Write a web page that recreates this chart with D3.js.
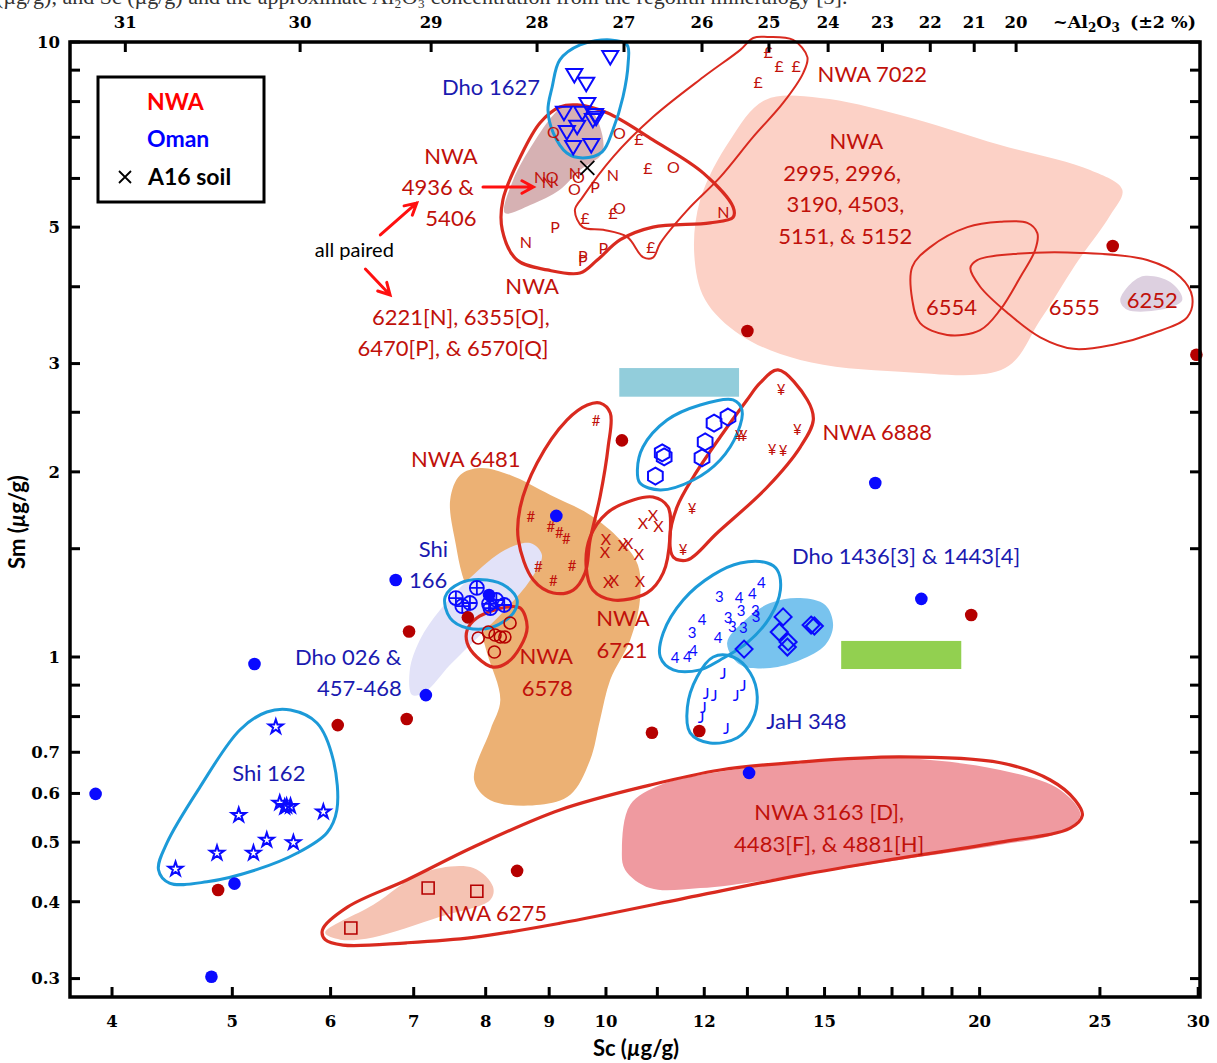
<!DOCTYPE html>
<html>
<head>
<meta charset="utf-8">
<script src="https://cdn.jsdelivr.net/npm/d3@7"></script>
<style>
  body { margin: 0; background: #fff; }
  svg { display: block; }
</style>
</head>
<body>
<svg id="chart" width="1217" height="1063"></svg>
<script>
// ---------- axis tick values ----------
const scTicks = [4, 5, 6, 7, 8, 9, 10, 11, 12, 13, 14, 15, 16, 17, 18, 19, 20, 25, 30];
const scTickLabels = [4, 5, 6, 7, 8, 9, 10, 12, 15, 20, 25, 30];
const smTicks = [0.3, 0.4, 0.5, 0.6, 0.7, 0.8, 0.9, 1, 1.5, 2, 2.5, 3, 4, 5, 6, 7, 8, 9, 10];
const smTickLabels = [0.3, 0.4, 0.5, 0.6, 0.7, 1, 2, 3, 5, 10];
// approximate Al2O3 (wt%) and the Sc value (µg/g) where each sits
const al2o3Ticks = [31, 30, 29, 28, 27, 26, 25, 24, 23, 22, 21, 20];
const al2o3TickSc = [4.10, 5.67, 7.23, 8.80, 10.34, 11.95, 13.53, 15.10, 16.70, 18.25, 19.80, 21.40];

// ---------- individual samples [Sc, Sm] ----------
const nwaSingles = [[25.6, 4.66], [29.9, 3.10], [13.0, 3.39], [10.3, 2.25], [7.74, 1.16], [6.94, 1.10],
  [6.08, 0.775], [6.91, 0.793], [10.89, 0.753], [11.89, 0.758], [19.69, 1.17], [8.48, 0.449], [4.87, 0.418]];
const omanSingles = [[3.88, 0.599], [4.81, 0.302], [5.02, 0.428], [5.21, 0.974], [6.77, 1.334], [7.16, 0.867],
  [8.05, 1.261], [9.12, 1.696], [13.04, 0.648], [16.48, 1.918], [17.95, 1.243]];
const a16Soil = [[9.66, 6.24]];

// ---------- grouped meteorite subsamples [Sc, Sm] ----------
const dho1627 = [[10.08, 9.45], [9.43, 8.84], [9.64, 8.55], [9.66, 7.93], [9.25, 7.67], [9.57, 7.67], [9.80, 7.61],
  [9.76, 7.47], [9.82, 7.53], [9.48, 7.28], [9.30, 7.14], [9.41, 6.75], [9.73, 6.80]];
const nwa6221 = [[8.85, 6.03], [8.98, 5.92], [9.44, 6.12], [10.13, 6.08], [12.43, 5.29], [8.62, 4.73]];
const nwa6355 = [[10.25, 7.11], [9.50, 6.03], [9.43, 5.77], [11.33, 6.26], [10.25, 5.37]];
const nwa6470 = [[9.80, 5.81], [9.10, 5.00], [9.95, 4.62], [9.58, 4.49], [9.58, 4.42]];
const nwa6570 = [[9.07, 7.14], [9.05, 6.03]];
const nwa7022 = [[10.63, 6.96], [10.81, 6.24], [9.62, 5.17], [10.13, 5.27], [10.87, 4.64], [13.51, 9.63],
  [13.79, 9.14], [14.23, 9.14], [13.26, 8.61]];
const shi166 = [[7.57, 1.247], [7.87, 1.295], [7.66, 1.210], [7.77, 1.224], [8.05, 1.220], [8.16, 1.238],
  [8.28, 1.215], [8.07, 1.201]];
const nwa6578 = [[8.37, 1.136], [7.89, 1.074], [8.04, 1.098], [8.14, 1.086], [8.22, 1.078], [8.29, 1.078], [8.13, 1.019]];
const nwa6481 = [[9.82, 2.419], [8.70, 1.689], [9.03, 1.627], [9.17, 1.591], [9.29, 1.555], [8.82, 1.401],
  [9.39, 1.406], [9.07, 1.329]];
const nwa6721 = [[10.71, 1.652], [10.91, 1.702], [11.02, 1.633], [10.00, 1.555], [9.98, 1.482], [10.32, 1.521],
  [10.42, 1.532], [10.63, 1.471], [10.04, 1.324], [10.15, 1.334], [10.65, 1.329]];
const nwa6888 = [[13.84, 2.717], [14.26, 2.339], [12.80, 2.287], [12.90, 2.287], [13.61, 2.171], [13.89, 2.163],
  [11.73, 1.741], [11.54, 1.493]];
const omanHexagons = [[12.54, 2.456], [12.22, 2.401], [12.02, 2.237], [11.95, 2.107], [11.10, 2.147], [11.14, 2.115], [10.96, 1.969]];
const dho1436 = [[12.34, 1.256], [12.54, 1.157], [12.85, 1.188], [13.19, 1.188], [13.21, 1.162], [12.64, 1.119],
  [12.90, 1.115], [11.73, 1.094]];
const dho1443 = [[12.80, 1.247], [13.12, 1.266], [13.34, 1.319], [11.95, 1.149], [12.31, 1.074], [11.37, 0.996],
  [11.63, 1.000], [11.76, 1.023]];
const omanDiamonds = [[13.89, 1.162], [13.79, 1.098], [14.02, 1.058], [14.00, 1.038], [12.92, 1.030], [14.63, 1.127], [14.72, 1.123]];
const jah348 = [[12.43, 0.942], [12.90, 0.900], [12.04, 0.874], [12.22, 0.867], [12.73, 0.867], [11.98, 0.829],
  [11.93, 0.799], [12.50, 0.767]];
const shi162 = [[5.42, 0.770], [5.46, 0.579], [5.53, 0.572], [5.51, 0.570], [5.57, 0.572], [5.06, 0.553],
  [5.92, 0.560], [5.33, 0.504], [5.60, 0.499], [5.20, 0.480], [4.86, 0.480], [4.50, 0.452]];
const nwa6275 = [[7.19, 0.421], [7.87, 0.416], [6.23, 0.3625]];

// ---------- shaded composition fields (outline vertices, [Sc, Sm]) ----------
const fieldNwa2995 = [[13.44, 8.05], [14.88, 8.11], [17.26, 7.61], [20.78, 6.80], [24.55, 6.19], [26.06, 5.75],
  [25.49, 5.23], [23.88, 4.34], [22.38, 3.53], [20.97, 2.95], [17.26, 2.91], [14.34, 3.04], [12.83, 3.34],
  [12.02, 3.81], [11.78, 4.51], [11.91, 5.54], [12.59, 6.93]];
const fieldNwa6252 = [[25.96, 3.81], [26.95, 4.15], [28.48, 4.07], [29.13, 3.81], [28.33, 3.69], [26.30, 3.67]];
const fieldNwa4936 = [[8.29, 5.27], [8.42, 5.97], [8.74, 6.85], [9.07, 7.61], [9.24, 7.84], [9.71, 7.75],
  [9.89, 7.28], [9.93, 6.60], [9.53, 6.19], [9.18, 5.75], [8.69, 5.43]];
const fieldOrange = [[7.63, 1.976], [7.92, 2.029], [8.37, 1.976], [9.02, 1.834], [9.71, 1.702], [10.27, 1.550],
  [10.61, 1.411], [10.65, 1.238], [10.46, 1.066], [10.08, 0.918], [9.89, 0.790], [9.71, 0.680], [9.36, 0.597],
  [8.85, 0.575], [8.07, 0.585], [7.83, 0.631], [8.07, 0.761], [8.22, 0.851], [8.02, 1.015], [7.84, 1.192],
  [7.66, 1.360], [7.57, 1.521], [7.49, 1.800]];
const fieldShi166 = [[6.98, 0.867], [6.95, 0.953], [7.08, 1.066], [7.35, 1.192], [7.77, 1.344], [8.29, 1.493],
  [8.69, 1.532], [8.88, 1.465], [8.69, 1.334], [8.29, 1.192], [7.92, 1.086], [7.49, 0.971], [7.15, 0.877]];
const fieldDiamonds = [[12.52, 1.054], [12.95, 1.149], [13.56, 1.224], [14.34, 1.247], [15.02, 1.215], [15.24, 1.127],
  [15.02, 1.046], [14.34, 0.989], [13.56, 0.960], [12.83, 0.971]];
const fieldNwa3163 = [[10.30, 0.486], [10.46, 0.575], [11.06, 0.619], [11.91, 0.643], [14.34, 0.675], [17.26, 0.685],
  [20.78, 0.655], [23.23, 0.608], [24.11, 0.553], [23.23, 0.519], [20.78, 0.495], [17.26, 0.468], [14.34, 0.442],
  [11.91, 0.421], [10.85, 0.421], [10.36, 0.451]];
const fieldNwa6275 = [[5.94, 0.356], [6.49, 0.395], [7.12, 0.446], [7.82, 0.454], [8.11, 0.423], [8.07, 0.403],
  [7.35, 0.378], [6.49, 0.350], [6.11, 0.347]];
// rectangular ranges [Sc min, Sc max, Sm min, Sm max]
const rangeTeal = [10.25, 12.80, 2.65, 2.95];
const rangeGreen = [15.47, 19.33, 0.956, 1.062];

// ---------- group envelopes ----------
const loopNwa7022 = [[13.49, 10.19], [14.15, 10.08], [14.53, 9.45], [14.42, 8.91], [13.89, 7.96], [13.14, 7.01],
  [12.36, 6.03], [11.63, 5.33], [11.06, 4.71], [10.91, 4.46], [10.71, 4.47], [10.40, 4.82], [9.95, 4.95],
  [9.58, 5.00], [9.44, 5.33], [9.58, 5.60], [10.13, 6.50], [10.91, 7.55], [11.98, 8.77], [12.83, 9.71], [13.14, 10.15]];
const loopNwa6221 = [[9.48, 7.90], [10.02, 7.67], [10.91, 6.93], [11.98, 6.12], [12.66, 5.39], [12.66, 5.19],
  [12.13, 5.08], [10.91, 5.00], [10.27, 4.77], [9.84, 4.42], [9.53, 4.21], [8.97, 4.26], [8.48, 4.42],
  [8.25, 4.95], [8.26, 5.54], [8.53, 6.50], [8.85, 7.39], [9.18, 7.84]];
const loopNwa6481 = [[9.89, 2.588], [10.08, 2.493], [10.04, 2.195], [9.89, 1.820], [9.71, 1.550], [9.62, 1.370],
  [9.41, 1.285], [9.07, 1.271], [8.74, 1.334], [8.50, 1.550], [8.53, 1.754], [8.80, 2.068], [9.30, 2.428], [9.66, 2.569]];
const loopNwa6721 = [[10.02, 1.715], [10.52, 1.800], [10.91, 1.820], [11.22, 1.754], [11.26, 1.567], [11.12, 1.370],
  [10.79, 1.271], [10.13, 1.238], [9.76, 1.285], [9.64, 1.401], [9.71, 1.567]];
const loopNwa6888 = [[13.76, 2.929], [14.53, 2.618], [14.69, 2.428], [14.34, 2.195], [13.49, 1.890], [12.29, 1.591],
  [11.63, 1.438], [11.33, 1.454], [11.26, 1.567], [11.41, 1.754], [11.76, 1.962], [12.36, 2.279], [12.99, 2.618], [13.31, 2.790]];
const loopNwa6578 = [[7.73, 1.106], [7.87, 1.157], [8.32, 1.206], [8.53, 1.201], [8.64, 1.119], [8.53, 1.038],
  [8.32, 0.978], [8.11, 0.963], [7.87, 1.000], [7.73, 1.054]];
const loopNwa6554 = [[22.26, 4.89], [21.85, 5.08], [20.78, 5.10], [19.55, 5.00], [18.25, 4.64], [17.65, 4.31],
  [17.65, 3.81], [17.91, 3.49], [18.83, 3.34], [20.02, 3.40], [20.78, 3.67], [21.57, 4.15], [22.17, 4.59]];
const loopNwa6555 = [[19.66, 4.29], [19.91, 4.42], [21.29, 4.52], [24.11, 4.54], [27.29, 4.42], [29.02, 4.15],
  [29.67, 3.85], [29.40, 3.57], [27.60, 3.36], [25.63, 3.22], [23.80, 3.17], [22.38, 3.31], [21.05, 3.63], [20.02, 4.00]];
const loopNwa3163 = [[5.91, 0.360], [6.19, 0.392], [6.91, 0.434], [7.82, 0.491], [9.18, 0.564], [10.85, 0.619],
  [12.36, 0.655], [14.34, 0.675], [17.26, 0.688], [20.78, 0.673], [22.80, 0.631], [23.88, 0.585], [24.20, 0.553],
  [23.66, 0.527], [20.78, 0.500], [17.26, 0.471], [14.34, 0.442], [11.91, 0.410], [9.18, 0.369], [7.82, 0.350],
  [6.91, 0.343], [6.14, 0.340], [5.94, 0.347]];
const loopDho1627 = [[9.05, 8.45], [9.18, 9.35], [9.53, 9.89], [10.08, 10.08], [10.40, 9.89], [10.42, 9.24],
  [10.32, 8.14], [10.13, 7.20], [9.93, 6.63], [9.58, 6.48], [9.30, 6.60], [9.07, 7.11], [8.98, 7.75]];
const loopHexagons = [[10.60, 2.014], [10.71, 2.195], [11.20, 2.428], [11.91, 2.569], [12.66, 2.618], [12.87, 2.521],
  [12.76, 2.313], [12.36, 2.091], [11.76, 1.940], [11.06, 1.869], [10.65, 1.918]];
const loopShi166 = [[7.42, 1.252], [7.63, 1.319], [8.02, 1.334], [8.32, 1.300], [8.48, 1.238], [8.42, 1.179],
  [8.11, 1.119], [7.73, 1.115], [7.49, 1.157]];
const loopDho1436 = [[13.74, 1.385], [13.49, 1.422], [12.83, 1.422], [12.20, 1.360], [11.54, 1.238], [11.12, 1.094],
  [11.06, 1.000], [11.33, 0.953], [11.91, 0.953], [12.36, 0.989], [12.99, 1.054], [13.56, 1.162], [13.82, 1.285]];
const loopJah348 = [[12.20, 1.000], [12.66, 1.000], [13.07, 0.942], [13.24, 0.861], [13.12, 0.790], [12.76, 0.739],
  [12.13, 0.725], [11.69, 0.753], [11.63, 0.829], [11.84, 0.928]];
const loopShi162 = [[5.33, 0.814], [5.57, 0.820], [5.85, 0.781], [6.03, 0.680], [6.07, 0.564], [5.96, 0.518],
  [5.64, 0.480], [5.23, 0.451], [4.77, 0.431], [4.45, 0.429], [4.36, 0.451], [4.43, 0.499], [4.71, 0.615], [5.07, 0.761]];

// ---------- scales ----------
const svg = d3.select('#chart');
const X0 = 70, X1 = 1200, Y0 = 42, Y1 = 997;
const x = d3.scaleLog().domain([3.7, 30.1]).range([X0, X1]);
const y = d3.scaleLog().domain([0.28, 10]).range([Y1, Y0]);

const C = {
  darkRed: '#b50000', redText: '#c0100a', redLoop: '#d92a1f', blueLoop: '#1c9ad8',
  blue: '#0a0aff', blueText: '#1a1ab0', arrow: '#ff1010'
};
const labelFont = 'Lato, "Open Sans", sans-serif';
const tickFont = '"DejaVu Serif", serif';

const outline = d3.line().x(d => x(d[0])).y(d => y(d[1])).curve(d3.curveCatmullRomClosed.alpha(0.5));

// caption line running off the top edge
svg.append('text').attr('x', -4).attr('y', 4)
  .attr('font-family', '"Liberation Serif", serif').attr('font-size', 22).attr('fill', '#333')
  .text('(µg/g), and Sc (µg/g) and the approximate Al₂O₃ concentration from the regolith mineralogy [3].');

// ---------- shaded fields ----------
const gFill = svg.append('g');
[
  [fieldNwa2995, '#fcd1c6'], [fieldNwa6252, '#ddd0e0'], [fieldNwa4936, '#d6b1b3'],
  [fieldOrange, '#ecb174'], [fieldShi166, '#e2e2f8'], [fieldDiamonds, '#78c3ee'],
  [fieldNwa3163, '#ef9aa0'], [fieldNwa6275, '#f5c3b3']
].forEach(([pts, fill]) => gFill.append('path').attr('d', outline(pts)).attr('fill', fill));

[[rangeTeal, '#92cddb'], [rangeGreen, '#92d050']].forEach(([r, fill]) => {
  gFill.append('rect')
    .attr('x', x(r[0])).attr('width', x(r[1]) - x(r[0]))
    .attr('y', y(r[3])).attr('height', y(r[2]) - y(r[3]))
    .attr('fill', fill);
});

// ---------- envelopes ----------
const gLoop = svg.append('g').attr('fill', 'none');
[
  [loopNwa7022, C.redLoop, 2], [loopNwa6221, C.redLoop, 3.2], [loopNwa6481, C.redLoop, 3.2],
  [loopNwa6721, C.redLoop, 3.2], [loopNwa6888, C.redLoop, 3.2], [loopNwa6578, C.redLoop, 3.2],
  [loopNwa6554, C.redLoop, 2], [loopNwa6555, C.redLoop, 2], [loopNwa3163, C.redLoop, 3.2],
  [loopDho1627, C.blueLoop, 3], [loopHexagons, C.blueLoop, 3], [loopShi166, C.blueLoop, 3],
  [loopDho1436, C.blueLoop, 3], [loopJah348, C.blueLoop, 3], [loopShi162, C.blueLoop, 3]
].forEach(([pts, col, w]) => gLoop.append('path').attr('d', outline(pts)).attr('stroke', col).attr('stroke-width', w));

// ---------- marker shapes ----------
const gMark = svg.append('g');
const tri = 'M-8,-6L8,-6L0,7.5Z';
const hex = d3.range(6).map(i => {
  const a = Math.PI / 180 * (60 * i - 90);
  return [8.5 * Math.cos(a), 8.5 * Math.sin(a)];
});
const hexPath = 'M' + hex.map(p => p.join(',')).join('L') + 'Z';
const diamondPath = 'M0,-8.5L8.5,0L0,8.5L-8.5,0Z';
const starPath = d3.symbol(d3.symbolStar, 62)();

function pathMarks(data, d, stroke, w) {
  gMark.append('g').selectAll('path').data(data).join('path')
    .attr('transform', p => `translate(${x(p[0])},${y(p[1])})`)
    .attr('d', d).attr('fill', 'none').attr('stroke', stroke).attr('stroke-width', w)
    .attr('stroke-linejoin', 'miter');
}
function textMarks(data, ch, fill, size) {
  gMark.append('g').selectAll('text').data(data).join('text')
    .attr('x', p => x(p[0])).attr('y', p => y(p[1])).attr('dy', '0.36em')
    .attr('text-anchor', 'middle').attr('font-family', labelFont).attr('font-size', size)
    .attr('fill', fill).text(ch);
}

// shaded-field members and Oman groups
pathMarks(omanHexagons, hexPath, C.blue, 2);
pathMarks(omanDiamonds, diamondPath, C.blue, 2);
pathMarks(shi162, starPath, C.blue, 2);
pathMarks(dho1627, tri, C.blue, 2);
pathMarks(nwa6275, 'M-6,-6H6V6H-6Z', C.darkRed, 1.6);
gMark.append('g').selectAll('circle').data(nwa6578).join('circle')
  .attr('cx', p => x(p[0])).attr('cy', p => y(p[1])).attr('r', 6)
  .attr('fill', 'none').attr('stroke', C.darkRed).attr('stroke-width', 1.6);
pathMarks(shi166, 'M-7,0A7,7 0 1,0 7,0A7,7 0 1,0 -7,0M-7,0H7M0,-7V7', C.blue, 1.8);

textMarks(nwa6221, 'N', C.redText, 16);
textMarks(nwa6355, 'O', C.redText, 16);
textMarks(nwa6470, 'P', C.redText, 16);
textMarks(nwa6570, 'Q', C.redText, 16);
textMarks(nwa7022, '£', C.redText, 16);
textMarks(nwa6481, '#', C.redText, 15);
textMarks(nwa6721, 'X', C.redText, 16);
textMarks(nwa6888, '¥', C.redText, 15);
textMarks(dho1436, '3', C.blue, 15);
textMarks(dho1443, '4', C.blue, 15);
textMarks(jah348, 'J', C.blue, 16);

// individual stones
gMark.append('g').selectAll('circle').data(nwaSingles).join('circle')
  .attr('cx', p => x(p[0])).attr('cy', p => y(p[1])).attr('r', 6.3).attr('fill', C.darkRed);
gMark.append('g').selectAll('circle').data(omanSingles).join('circle')
  .attr('cx', p => x(p[0])).attr('cy', p => y(p[1])).attr('r', 6.3).attr('fill', C.blue);
pathMarks(a16Soil, 'M-7,-7L7,7M-7,7L7,-7', '#000', 1.8);

// ---------- labels ----------
const gText = svg.append('g').attr('font-family', labelFont).attr('text-anchor', 'middle');
function label(t, sc, sm, fill, size = 22) {
  gText.append('text').attr('x', x(sc)).attr('y', y(sm)).attr('dy', '0.36em')
    .attr('font-size', size).attr('fill', fill).text(t);
}
label('Dho 1627', 8.08, 8.45, C.blueText);
label('NWA 7022', 16.39, 8.87, C.redText);
label('NWA', 15.91, 6.90, C.redText);
label('2995, 2996,', 15.50, 6.12, C.redText);
label('3190, 4503,', 15.59, 5.45, C.redText);
label('5151, & 5152', 15.59, 4.84, C.redText);
label('NWA', 7.50, 6.53, C.redText);
label('4936 &', 7.32, 5.81, C.redText);
label('5406', 7.50, 5.17, C.redText);
label('all paired', 6.27, 4.59, '#000', 20);
label('NWA', 8.72, 4.01, C.redText);
label('6221[N], 6355[O],', 7.64, 3.57, C.redText);
label('6470[P], & 6570[Q]', 7.53, 3.18, C.redText);
label('6554', 18.98, 3.71, C.redText);
label('6555', 23.84, 3.71, C.redText);
label('6252', 27.55, 3.81, C.redText);
label('NWA 6888', 16.54, 2.32, C.redText);
label('NWA 6481', 7.71, 2.10, C.redText);
label('Shi', 7.26, 1.498, C.blueText);
label('166', 7.19, 1.334, C.blueText);
label('Dho 1436[3] & 1443[4]', 17.45, 1.460, C.blueText);
label('NWA', 10.32, 1.157, C.redText);
label('6721', 10.30, 1.026, C.redText);
label('NWA', 8.95, 1.004, C.redText);
label('6578', 8.97, 0.8905, C.redText);
label('Dho 026 &', 6.20, 1.000, C.blueText);
label('457-468', 6.33, 0.8905, C.blueText);
label('JaH 348', 14.50, 0.787, C.blueText);
label('Shi 162', 5.35, 0.648, C.blueText);
label('NWA 3163 [D],', 15.13, 0.560, C.redText);
label('4483[F], & 4881[H]', 15.13, 0.4966, C.redText);
label('NWA 6275', 8.10, 0.3835, C.redText);

// pointer arrows
function arrow(from, to) {
  const x1 = x(from[0]), y1 = y(from[1]), x2 = x(to[0]), y2 = y(to[1]);
  const a = Math.atan2(y2 - y1, x2 - x1), L = 13, s = 0.5;
  const p1 = [x2 - L * Math.cos(a - s), y2 - L * Math.sin(a - s)];
  const p2 = [x2 - L * Math.cos(a + s), y2 - L * Math.sin(a + s)];
  svg.append('path')
    .attr('d', `M${x1},${y1}L${x2},${y2}M${p1}L${x2},${y2}L${p2}`)
    .attr('fill', 'none').attr('stroke', C.arrow).attr('stroke-width', 3)
    .attr('stroke-linecap', 'round').attr('stroke-linejoin', 'miter');
}
arrow([7.96, 5.81], [8.74, 5.81]);
arrow([6.58, 4.855], [7.04, 5.473]);
arrow([6.40, 4.275], [6.70, 3.879]);

// ---------- frame and axes ----------
const gAxis = svg.append('g');
gAxis.append('rect').attr('x', X0).attr('y', Y0).attr('width', X1 - X0).attr('height', Y1 - Y0)
  .attr('fill', 'none').attr('stroke', '#000').attr('stroke-width', 3.5);

const tickLen = 10;
gAxis.selectAll('.tb').data(scTicks).join('line')
  .attr('x1', d => x(d)).attr('x2', d => x(d)).attr('y1', Y1).attr('y2', Y1 - tickLen)
  .attr('stroke', '#000').attr('stroke-width', 3);
gAxis.selectAll('.tl').data(smTicks).join('line')
  .attr('x1', X0).attr('x2', X0 + tickLen).attr('y1', d => y(d)).attr('y2', d => y(d))
  .attr('stroke', '#000').attr('stroke-width', 3);
gAxis.selectAll('.tr').data(smTicks).join('line')
  .attr('x1', X1).attr('x2', X1 - tickLen).attr('y1', d => y(d)).attr('y2', d => y(d))
  .attr('stroke', '#000').attr('stroke-width', 3);
gAxis.selectAll('.tt').data(al2o3TickSc).join('line')
  .attr('x1', d => x(d)).attr('x2', d => x(d)).attr('y1', Y0).attr('y2', Y0 + tickLen)
  .attr('stroke', '#000').attr('stroke-width', 3);

const tickText = gAxis.append('g').attr('font-family', tickFont).attr('font-weight', 'bold')
  .attr('font-size', 16.5).attr('fill', '#000');
tickText.selectAll('.lb').data(scTickLabels).join('text')
  .attr('x', d => x(d)).attr('y', 1027).attr('text-anchor', 'middle').text(d => d);
tickText.selectAll('.ll').data(smTickLabels).join('text')
  .attr('x', 60).attr('y', d => y(d)).attr('dy', '0.35em').attr('text-anchor', 'end').text(d => d);
tickText.selectAll('.lt').data(al2o3Ticks).join('text')
  .attr('x', (d, i) => x(al2o3TickSc[i])).attr('y', 28).attr('text-anchor', 'middle').text(d => d);

const alTitle = gAxis.append('text').attr('x', 1196).attr('y', 28).attr('text-anchor', 'end')
  .attr('font-family', tickFont).attr('font-weight', 'bold').attr('font-size', 17.5);
alTitle.append('tspan').text('~Al');
alTitle.append('tspan').attr('font-size', 12).attr('dy', 4).text('2');
alTitle.append('tspan').attr('dy', -4).text('O');
alTitle.append('tspan').attr('font-size', 12).attr('dy', 4).text('3');
alTitle.append('tspan').attr('dy', -4).attr('dx', 10).text('(±2 %)');

const scTitle = gAxis.append('text').attr('x', 636).attr('y', 1056).attr('text-anchor', 'middle')
  .attr('font-family', labelFont).attr('font-weight', 'bold').attr('font-size', 22);
scTitle.append('tspan').text('Sc  (');
scTitle.append('tspan').attr('font-style', 'italic').text('µ');
scTitle.append('tspan').text('g/g)');

const smTitle = gAxis.append('text').attr('transform', 'translate(25,522) rotate(-90)').attr('text-anchor', 'middle')
  .attr('font-family', labelFont).attr('font-weight', 'bold').attr('font-size', 22);
smTitle.append('tspan').text('Sm  (');
smTitle.append('tspan').attr('font-style', 'italic').text('µ');
smTitle.append('tspan').text('g/g)');

// ---------- legend ----------
const gLeg = svg.append('g');
gLeg.append('rect').attr('x', 98).attr('y', 77).attr('width', 166).attr('height', 125)
  .attr('fill', '#fff').attr('stroke', '#000').attr('stroke-width', 3);
const legText = gLeg.append('g').attr('font-family', labelFont).attr('font-weight', 'bold').attr('font-size', 23);
legText.append('text').attr('x', 147).attr('y', 110).attr('fill', '#ff0000').text('NWA');
legText.append('text').attr('x', 147).attr('y', 147).attr('fill', '#0000ff').text('Oman');
legText.append('text').attr('x', 148).attr('y', 185).attr('fill', '#000').text('A16 soil');
gLeg.append('path').attr('d', 'M119,171L131,183M119,183L131,171').attr('stroke', '#000').attr('stroke-width', 1.8);
</script>
</body>
</html>
